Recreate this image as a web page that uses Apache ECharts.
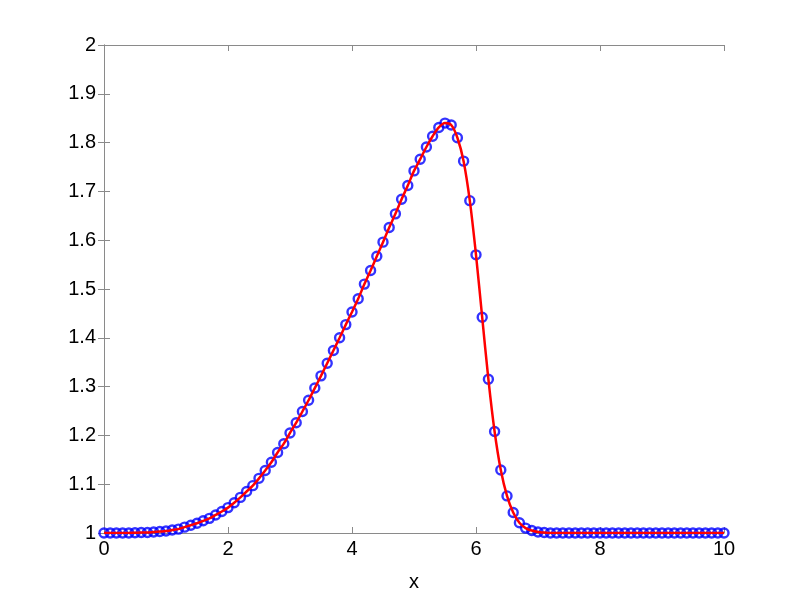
<!DOCTYPE html>
<html>
<head>
<meta charset="utf-8">
<script src="https://cdn.jsdelivr.net/npm/echarts@6/dist/echarts.min.js"></script>
<style>html,body{margin:0;padding:0;background:#fff}#c{width:800px;height:600px}</style>
</head>
<body>
<div id="c"></div>
<script>
const xValues = [0.0,0.1,0.2,0.3,0.4,0.5,0.6,0.7,0.8,0.9,1.0,1.1,1.2,1.3,1.4,1.5,1.6,1.7,1.8,1.9,2.0,2.1,2.2,2.3,2.4,2.5,2.6,2.7,2.8,2.9,3.0,3.1,3.2,3.3,3.4,3.5,3.6,3.7,3.8,3.9,4.0,4.1,4.2,4.3,4.4,4.5,4.6,4.7,4.8,4.9,5.0,5.1,5.2,5.3,5.4,5.5,5.6,5.7,5.8,5.9,6.0,6.1,6.2,6.3,6.4,6.5,6.6,6.7,6.8,6.9,7.0,7.1,7.2,7.3,7.4,7.5,7.6,7.7,7.8,7.9,8.0,8.1,8.2,8.3,8.4,8.5,8.6,8.7,8.8,8.9,9.0,9.1,9.2,9.3,9.4,9.5,9.6,9.7,9.8,9.9,10.0];
const numericValues = [1.000,1.000,1.000,1.000,1.000,1.0005,1.001,1.001,1.002,1.003,1.004,1.006,1.008,1.012,1.016,1.020,1.025,1.030,1.037,1.044,1.052,1.062,1.073,1.085,1.097,1.112,1.128,1.145,1.165,1.183,1.205,1.226,1.249,1.272,1.297,1.322,1.348,1.374,1.400,1.427,1.453,1.480,1.510,1.538,1.567,1.596,1.626,1.654,1.684,1.712,1.742,1.766,1.791,1.813,1.831,1.840,1.836,1.810,1.762,1.681,1.570,1.442,1.315,1.208,1.129,1.076,1.042,1.021,1.010,1.005,1.002,1.001,1.000,1.000,1.000,1.000,1.000,1.000,1.000,1.000,1.000,1.000,1.000,1.000,1.000,1.000,1.000,1.000,1.000,1.000,1.000,1.000,1.000,1.000,1.000,1.000,1.000,1.000,1.000,1.000,1.000];
const exactValues = numericValues.slice();
const xTicks = [0,2,4,6,8,10];
const yTicks = [1,1.1,1.2,1.3,1.4,1.5,1.6,1.7,1.8,1.9,2];

const pts = xValues.map((x,i)=>[x,numericValues[i]]);
const line = xValues.map((x,i)=>[x,exactValues[i]]);
const axisColor = '#8a8a8a';
const font = 'Liberation Sans, Arial, sans-serif';
const chart = echarts.init(document.getElementById('c'));
chart.setOption({
  animation:false,
  backgroundColor:'#fff',
  grid:{left:104,right:76,top:45,bottom:67,containLabel:false},
  xAxis:[{
    type:'value',min:0,max:10,interval:2,
    name:'x',nameLocation:'middle',nameGap:39,
    nameTextStyle:{color:'#000',fontSize:20,fontFamily:font},
    axisLine:{show:true,lineStyle:{color:axisColor,width:1}},
    axisTick:{show:true,inside:true,length:6,lineStyle:{color:axisColor}},
    axisLabel:{color:'#000',fontSize:20,fontFamily:font,margin:6,formatter:v=>String(v)},
    splitLine:{show:false}
  },{
    type:'value',min:0,max:10,interval:2,position:'top',
    axisLine:{show:true,lineStyle:{color:axisColor,width:1}},
    axisTick:{show:true,inside:true,length:6,lineStyle:{color:axisColor}},
    axisLabel:{show:false},splitLine:{show:false}
  }],
  yAxis:[{
    type:'value',min:1,max:2,interval:0.1,
    axisLine:{show:true,lineStyle:{color:axisColor,width:1}},
    axisTick:{show:true,inside:true,length:6,lineStyle:{color:axisColor}},
    axisLabel:{color:'#000',fontSize:20,fontFamily:font,margin:8,
      formatter:v=>{const r=Math.round(v*10)/10;return (r===1||r===2)?String(r):r.toFixed(1);}},
    splitLine:{show:false}
  },{
    type:'value',min:1,max:2,interval:0.1,position:'right',
    axisLine:{show:true,lineStyle:{color:axisColor,width:1}},
    axisTick:{show:true,inside:true,length:6,lineStyle:{color:axisColor}},
    axisLabel:{show:false},splitLine:{show:false}
  }],
  series:[{
    type:'scatter',data:pts,xAxisIndex:0,yAxisIndex:0,
    symbol:'circle',symbolSize:9,
    itemStyle:{color:'rgba(0,0,0,0)',borderColor:'#0000ff',borderWidth:2.4},
    z:2
  },{
    type:'line',data:line,xAxisIndex:0,yAxisIndex:0,
    smooth:0.3,showSymbol:false,
    lineStyle:{color:'#ff0000',width:2.5},
    z:3
  }]
});
</script>
</body>
</html>
